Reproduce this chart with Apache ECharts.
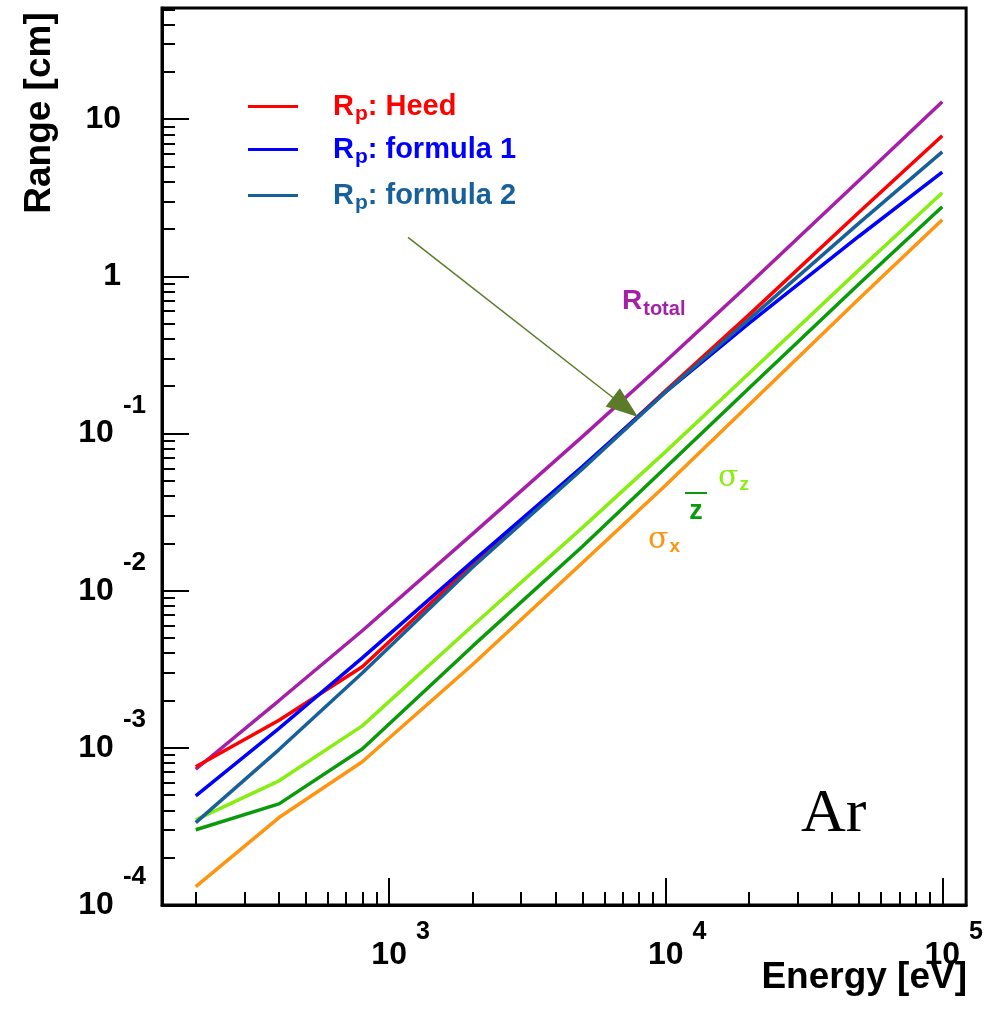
<!DOCTYPE html>
<html>
<head>
<meta charset="utf-8">
<script src="https://cdn.jsdelivr.net/npm/echarts@6/dist/echarts.min.js"></script>
<style>
  html, body { margin: 0; padding: 0; background: #fff; }
  #chart { width: 986px; height: 1015px; }
</style>
</head>
<body>
<div id="chart"></div>
<script>
// energies [eV] where the curves were read
const energy = [200, 400, 800, 2000, 5000, 10000, 20000, 50000, 100000];
// ranges [cm]
const rTotal     = [7.31e-4, 2.00e-3, 5.56e-3, 0.0229,  0.0955, 0.288, 0.891, 4.07, 12.9];
const rpHeed     = [7.57e-4, 1.50e-3, 3.28e-3, 0.01466, 0.0603, 0.188, 0.569, 2.56, 7.85];
const rpFormula1 = [4.94e-4, 1.33e-3, 3.74e-3, 0.0153,  0.0617, 0.184, 0.502, 1.80, 4.61];
const rpFormula2 = [3.34e-4, 9.75e-4, 2.99e-3, 0.01403, 0.0596, 0.184, 0.532, 2.18, 6.19];
const sigmaZ     = [3.48e-4, 6.17e-4, 1.38e-3, 5.96e-3, 0.0252, 0.0767, 0.241, 1.10, 3.40];
const zMean      = [3.01e-4, 4.40e-4, 9.82e-4, 4.42e-3, 0.0191, 0.0607, 0.194, 0.893, 2.77];
const sigmaX     = [1.31e-4, 3.60e-4, 8.15e-4, 3.38e-3, 0.01507, 0.0469, 0.152, 0.721, 2.29];

// axis ranges and decade ticks
const xRange = [151, 122000];
const yRange = [1e-4, 51];
const xDecades = [3, 4, 5];
const yDecades = [-4, -3, -2, -1, 0, 1];
const minorMantissa = [2, 3, 4, 5, 6, 7, 8, 9];

// arrow (start, end) in data units
const arrowFrom = [1171, 1.77];
const arrowTo = [7150, 0.147];

const lg = Math.log10;
const minorTicks = (range) => {
    const out = [];
    for (let k = -5; k <= 6; k++) {
        minorMantissa.forEach(m => {
            const v = m * Math.pow(10, k);
            if (v >= range[0] && v <= range[1]) out.push(lg(v));
        });
    }
    return out;
};
const toPoints = (vals) => energy.map((e, i) => [lg(e), lg(vals[i])]);

const FONT = 'Liberation Sans';
const chart = echarts.init(document.getElementById('chart'));

const axisLineStyle = { color: '#000', width: 3 };

const legendItem = (name, color, top) => ({
    data: [name],
    left: 248,
    top: top,
    padding: 0,
    icon: 'rect',
    itemWidth: 50,
    itemHeight: 3,
    selectedMode: false,
    formatter: n => '{g|}{R|R}{p|p}{t|: ' + n.slice(4) + '}',
    textStyle: {
        color: color,
        rich: {
            g: { width: 30 },
            R: { fontSize: 29, fontWeight: 'bold', fontFamily: FONT, color: color },
            p: { fontSize: 21, fontWeight: 'bold', fontFamily: FONT, color: color, padding: [16, 0, 0, 1] },
            t: { fontSize: 29, fontWeight: 'bold', fontFamily: FONT, color: color }
        }
    }
});

const lineSeries = (name, vals, color, z) => ({
    name: name,
    type: 'line',
    data: toPoints(vals),
    symbol: 'none',
    z: z,
    lineStyle: { color: color, width: 3.5 },
    itemStyle: { color: color },
    emphasis: { disabled: true }
});

const totalSeries = lineSeries('R total', rTotal, '#a61fa8', 2);
totalSeries.markLine = {
    silent: true,
    symbol: ['none', 'triangle'],
    label: { show: false },
    lineStyle: { color: '#5b7b2a', width: 1.5, type: 'solid' },
    emphasis: { disabled: true },
    data: [[
        { coord: [lg(arrowFrom[0]), lg(arrowFrom[1])], symbol: 'none' },
        { coord: [lg(arrowTo[0]), lg(arrowTo[1])], symbol: 'triangle', symbolSize: [23, 32], itemStyle: { color: '#5b7b2a' } }
    ]]
};

const option = {
    animation: false,
    backgroundColor: '#fff',
    grid: {
        left: 162, top: 8, width: 805, height: 897,
        show: true, borderColor: '#000', borderWidth: 3, backgroundColor: 'transparent'
    },
    legend: [
        legendItem('Rp: Heed', '#ff0000', 92),
        legendItem('Rp: formula 1', '#0000ff', 135),
        legendItem('Rp: formula 2', '#17609a', 181)
    ],
    xAxis: [
        {
            type: 'value', position: 'bottom',
            min: lg(xRange[0]), max: lg(xRange[1]),
            axisLine: { onZero: false, lineStyle: axisLineStyle },
            axisTick: { inside: true, length: 27, lineStyle: { color: '#000', width: 2 }, customValues: xDecades },
            splitLine: { show: false },
            axisLabel: {
                customValues: xDecades,
                margin: 15,
                formatter: v => '{s|}{b|10}{e|' + v + '}',
                rich: {
                    s: { width: 23 },
                    b: { fontSize: 32, fontWeight: 'bold', fontFamily: FONT, color: '#000' },
                    e: { fontSize: 25, fontWeight: 'bold', fontFamily: FONT, color: '#000', padding: [0, 0, 46, 9] }
                }
            }
        },
        {
            type: 'value', position: 'bottom',
            min: lg(xRange[0]), max: lg(xRange[1]),
            axisLine: { show: false, onZero: false },
            axisTick: { inside: true, length: 13, lineStyle: { color: '#000', width: 2 }, customValues: minorTicks(xRange) },
            axisLabel: { show: false },
            splitLine: { show: false }
        }
    ],
    yAxis: [
        {
            type: 'value', position: 'left',
            min: lg(yRange[0]), max: lg(yRange[1]),
            axisLine: { onZero: false, lineStyle: axisLineStyle },
            axisTick: { inside: true, length: 27, lineStyle: { color: '#000', width: 2 }, customValues: yDecades },
            splitLine: { show: false },
            axisLabel: {
                customValues: yDecades,
                margin: 16,
                formatter: v => {
                    if (v === 0) return '{b|1}{s|}';
                    if (v === 1) return '{b|10}{s|}';
                    return '{b|10}{e|' + v + '}';
                },
                rich: {
                    s: { width: 25 },
                    b: { fontSize: 32, fontWeight: 'bold', fontFamily: FONT, color: '#000' },
                    e: { fontSize: 26, fontWeight: 'bold', fontFamily: FONT, color: '#000', padding: [0, 0, 56, 9] }
                }
            }
        },
        {
            type: 'value', position: 'left',
            min: lg(yRange[0]), max: lg(yRange[1]),
            axisLine: { show: false, onZero: false },
            axisTick: { inside: true, length: 13, lineStyle: { color: '#000', width: 2 }, customValues: minorTicks(yRange) },
            axisLabel: { show: false },
            splitLine: { show: false }
        }
    ],
    series: [
        totalSeries,
        lineSeries('Rp: Heed', rpHeed, '#ff0000', 3),
        lineSeries('Rp: formula 1', rpFormula1, '#0000ff', 4),
        lineSeries('Rp: formula 2', rpFormula2, '#17609a', 5),
        lineSeries('sigma z', sigmaZ, '#88ee11', 3),
        lineSeries('z mean', zMean, '#0a9a0a', 3),
        lineSeries('sigma x', sigmaX, '#ff9410', 3)
    ],
    graphic: [
        {
            type: 'text', x: 40, y: 113, rotation: Math.PI / 2,
            style: { text: 'Range [cm]', font: 'bold 37px "Liberation Sans"', fill: '#000',
                     textAlign: 'center', textVerticalAlign: 'middle', align: 'center', verticalAlign: 'middle' }
        },
        {
            type: 'text', x: 967, y: 978,
            style: { text: 'Energy [eV]', font: 'bold 37px "Liberation Sans"', fill: '#000',
                     textAlign: 'right', textVerticalAlign: 'middle', align: 'right', verticalAlign: 'middle' }
        },
        {
            type: 'text', x: 622, y: 301,
            style: {
                text: '{R|R}{s|total}', fill: '#a61fa8',
                textAlign: 'left', textVerticalAlign: 'middle', align: 'left', verticalAlign: 'middle',
                rich: {
                    R: { fontSize: 28, fontWeight: 'bold', fontFamily: FONT, fill: '#a61fa8' },
                    s: { fontSize: 20, fontWeight: 'bold', fontFamily: FONT, fill: '#a61fa8', padding: [16, 0, 0, 1] }
                }
            }
        },
        {
            type: 'text', x: 718, y: 478,
            style: {
                text: '{a|σ}{b|z}', fill: '#88ee11',
                textAlign: 'left', textVerticalAlign: 'middle', align: 'left', verticalAlign: 'middle',
                rich: {
                    a: { fontSize: 30, fontFamily: 'DejaVu Serif', fill: '#88ee11' },
                    b: { fontSize: 19, fontWeight: 'bold', fontFamily: FONT, fill: '#88ee11', padding: [14, 0, 0, 1] }
                }
            }
        },
        {
            type: 'text', x: 696, y: 512,
            style: { text: 'z', font: 'bold 27px "Liberation Sans"', fill: '#0a9a0a',
                     textAlign: 'center', textVerticalAlign: 'middle', align: 'center', verticalAlign: 'middle' }
        },
        {
            type: 'line', shape: { x1: 685, y1: 493, x2: 707, y2: 493 },
            style: { stroke: '#0a9a0a', lineWidth: 2 }
        },
        {
            type: 'text', x: 648, y: 540,
            style: {
                text: '{a|σ}{b|x}', fill: '#ff9410',
                textAlign: 'left', textVerticalAlign: 'middle', align: 'left', verticalAlign: 'middle',
                rich: {
                    a: { fontSize: 30, fontFamily: 'DejaVu Serif', fill: '#ff9410' },
                    b: { fontSize: 19, fontWeight: 'bold', fontFamily: FONT, fill: '#ff9410', padding: [14, 0, 0, 1] }
                }
            }
        },
        {
            type: 'text', x: 801, y: 784,
            style: { text: 'Ar', font: '62px "Liberation Serif"', fill: '#000',
                     textAlign: 'left', textVerticalAlign: 'top', align: 'left', verticalAlign: 'top' }
        }
    ]
};

chart.setOption(option);
</script>
</body>
</html>
